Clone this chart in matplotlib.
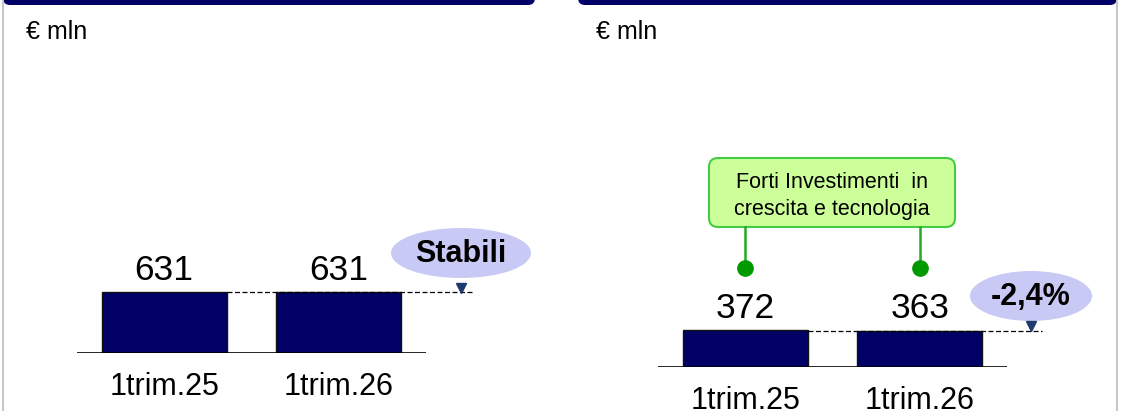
import matplotlib.pyplot as plt
from matplotlib.patches import Ellipse, FancyBboxPatch
from matplotlib import transforms

plt.rcParams['font.family'] = ['Liberation Sans', 'DejaVu Sans']

# data
categories = ['1trim.25', '1trim.26']
left_values = [631, 631]
right_values = [372, 363]
left_badge = 'Stabili'
right_badge = '-2,4%'
unit_label = '€ mln'
callout_text = 'Forti Investimenti  in\ncrescita e tecnologia'

W, H = 1121, 411
NAVY = '#000066'

fig = plt.figure(figsize=(W / 100, H / 100), dpi=100)

# overlay in pixel coords (y from top)
ov = fig.add_axes([0, 0, 1, 1], zorder=0)
ov.set_xlim(0, W)
ov.set_ylim(H, 0)
ov.axis('off')

# panel headers and borders
for x0, x1 in [(3, 535), (578, 1117)]:
    ov.add_patch(FancyBboxPatch((x0, -30), x1 - x0, 35,
                                boxstyle='round,pad=0,rounding_size=7',
                                fc=NAVY, ec='none'))
ov.plot([2.5, 2.5], [0, H], color='#c8c8c8', lw=1.5)
ov.plot([1116.5, 1116.5], [0, H], color='#c8c8c8', lw=1.5)
ov.text(26, 39, unit_label, fontsize=18, va='baseline')
ov.text(596, 39, unit_label, fontsize=18, va='baseline')


def bar_panel(x0, x1, base_y, px_per_unit, values, badge, badge_xy, badge_w):
    height_px = 253
    ax = fig.add_axes([x0 / W, 1 - base_y / H, (x1 - x0) / W, height_px / H], zorder=2)
    ax.patch.set_alpha(0)
    ax.axis('off')
    xs = list(range(len(values)))
    ax.bar(xs, values, width=125 / 175, color=NAVY, edgecolor='#111111', lw=1)
    ax.set_xlim(-0.5, 1.5)
    ax.set_ylim(0, height_px / px_per_unit)
    ax.axhline(0, color='black', lw=1.2)
    for x, v in zip(xs, values):
        ax.annotate(str(v), (x, v), xytext=(0, 9), textcoords='offset points',
                    ha='center', va='baseline', fontsize=25.5)
        ax.annotate(categories[x], (x, 0), xytext=(0, -30), textcoords='offset points',
                    ha='center', va='baseline', fontsize=22)
    # dashed reference line at last value
    bw = 125 / 175
    bx, by = badge_xy
    xend = ax.transData.inverted().transform(fig.transFigure.transform(((bx + 11) / W, 0)))[0]
    ax.plot([xs[0] + bw / 2, xend], [values[-1]] * 2, ls=(0, (4, 2)), color='black',
            lw=0.9, clip_on=False, zorder=3)
    xm = ax.transData.inverted().transform(fig.transFigure.transform((bx / W, 0)))[0]
    tri = transforms.offset_copy(ax.transData, fig=fig, y=4.5, units='dots')
    ax.plot([xm], [values[-1]], marker='v', ms=7, color='#1f3a6e', transform=tri,
            clip_on=False, zorder=4)
    ov.add_patch(Ellipse((bx, by), badge_w, 50, fc='#c9c9f5', ec='none'))
    ov.text(bx, by + 1, badge, fontsize=22, fontweight='bold', ha='center', va='center')
    return ax


bar_panel(77, 426, 353, 61 / 631, left_values, left_badge, (461, 253), 140)
axr = bar_panel(658, 1007, 367, 37 / 372, right_values, right_badge, (1031, 296), 122)

# green callout over right panel bars
ov.add_patch(FancyBboxPatch((709, 158), 246, 69,
                            boxstyle='round,pad=0,rounding_size=9',
                            fc='#ccff99', ec='#44cc44', lw=1.5, zorder=3))
ov.text(832, 196, callout_text, fontsize=15.5, ha='center', va='center',
        linespacing=1.35, zorder=4)
mix = transforms.blended_transform_factory(axr.transData, ov.transData)
for x in range(len(right_values)):
    axr.plot([x, x], [227, 268], color='#22aa22', lw=1.8, transform=mix, clip_on=False)
    axr.plot([x], [268], marker='o', ms=11, color='#009900', transform=mix, clip_on=False)

fig.savefig('out.png', dpi=100)
